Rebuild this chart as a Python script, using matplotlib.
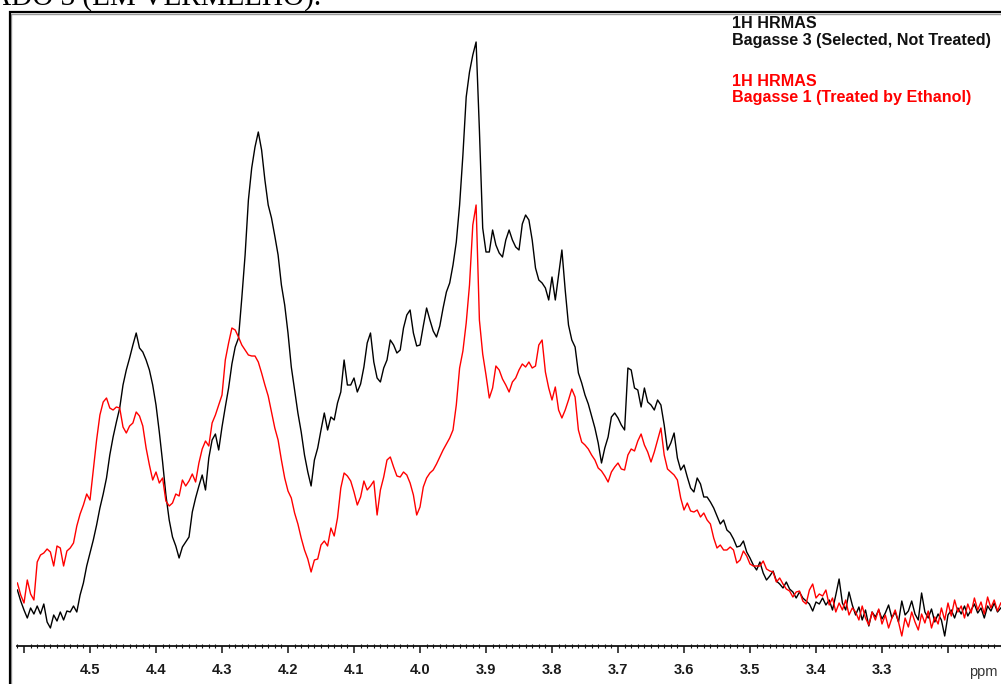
import matplotlib
matplotlib.use('Agg')
import matplotlib.pyplot as plt
from matplotlib.ticker import MultipleLocator, FixedLocator, FixedFormatter
from matplotlib.patches import Rectangle

plt.rcParams['font.family'] = ['Liberation Sans', 'DejaVu Sans']

# chemical shift (ppm), sampled every 0.005 ppm
ppm = [
    4.610, 4.605, 4.600, 4.595, 4.590, 4.585, 4.580, 4.575, 4.570, 4.565,
    4.560, 4.555, 4.550, 4.545, 4.540, 4.535, 4.530, 4.525, 4.520, 4.515,
    4.510, 4.505, 4.500, 4.495, 4.490, 4.485, 4.480, 4.475, 4.470, 4.465,
    4.460, 4.455, 4.450, 4.445, 4.440, 4.435, 4.430, 4.425, 4.420, 4.415,
    4.410, 4.405, 4.400, 4.395, 4.390, 4.385, 4.380, 4.375, 4.370, 4.365,
    4.360, 4.355, 4.350, 4.345, 4.340, 4.335, 4.330, 4.325, 4.320, 4.315,
    4.310, 4.305, 4.300, 4.295, 4.290, 4.285, 4.280, 4.275, 4.270, 4.265,
    4.260, 4.255, 4.250, 4.245, 4.240, 4.235, 4.230, 4.225, 4.220, 4.215,
    4.210, 4.205, 4.200, 4.195, 4.190, 4.185, 4.180, 4.175, 4.170, 4.165,
    4.160, 4.155, 4.150, 4.145, 4.140, 4.135, 4.130, 4.125, 4.120, 4.115,
    4.110, 4.105, 4.100, 4.095, 4.090, 4.085, 4.080, 4.075, 4.070, 4.065,
    4.060, 4.055, 4.050, 4.045, 4.040, 4.035, 4.030, 4.025, 4.020, 4.015,
    4.010, 4.005, 4.000, 3.995, 3.990, 3.985, 3.980, 3.975, 3.970, 3.965,
    3.960, 3.955, 3.950, 3.945, 3.940, 3.935, 3.930, 3.925, 3.920, 3.915,
    3.910, 3.905, 3.900, 3.895, 3.890, 3.885, 3.880, 3.875, 3.870, 3.865,
    3.860, 3.855, 3.850, 3.845, 3.840, 3.835, 3.830, 3.825, 3.820, 3.815,
    3.810, 3.805, 3.800, 3.795, 3.790, 3.785, 3.780, 3.775, 3.770, 3.765,
    3.760, 3.755, 3.750, 3.745, 3.740, 3.735, 3.730, 3.725, 3.720, 3.715,
    3.710, 3.705, 3.700, 3.695, 3.690, 3.685, 3.680, 3.675, 3.670, 3.665,
    3.660, 3.655, 3.650, 3.645, 3.640, 3.635, 3.630, 3.625, 3.620, 3.615,
    3.610, 3.605, 3.600, 3.595, 3.590, 3.585, 3.580, 3.575, 3.570, 3.565,
    3.560, 3.555, 3.550, 3.545, 3.540, 3.535, 3.530, 3.525, 3.520, 3.515,
    3.510, 3.505, 3.500, 3.495, 3.490, 3.485, 3.480, 3.475, 3.470, 3.465,
    3.460, 3.455, 3.450, 3.445, 3.440, 3.435, 3.430, 3.425, 3.420, 3.415,
    3.410, 3.405, 3.400, 3.395, 3.390, 3.385, 3.380, 3.375, 3.370, 3.365,
    3.360, 3.355, 3.350, 3.345, 3.340, 3.335, 3.330, 3.325, 3.320, 3.315,
    3.310, 3.305, 3.300, 3.295, 3.290, 3.285, 3.280, 3.275, 3.270, 3.265,
    3.260, 3.255, 3.250, 3.245, 3.240, 3.235, 3.230, 3.225, 3.220, 3.215,
    3.210, 3.205, 3.200, 3.195, 3.190, 3.185, 3.180, 3.175, 3.170, 3.165,
    3.160, 3.155, 3.150, 3.145, 3.140, 3.135, 3.130, 3.125, 3.120,
]

# Bagasse 3 (Selected, Not Treated) - black trace, arbitrary intensity
bagasse3 = [
    60, 49, 40, 32, 42, 36, 44, 36, 46, 28,
    22, 35, 29, 38, 30, 39, 38, 44, 38, 55,
    67, 84, 97, 110, 125, 142, 156, 172, 195, 213,
    228, 242, 265, 280, 292, 305, 317, 302, 298, 290,
    280, 265, 245, 218, 188, 155, 130, 113, 104, 92,
    103, 108, 113, 138, 152, 164, 175, 160, 192, 210,
    216, 200, 223, 243, 262, 286, 303, 312, 352, 395,
    450, 482, 503, 518, 500, 470, 445, 432, 414, 395,
    365, 345, 317, 283, 260, 237, 218, 195, 178, 164,
    190, 202, 220, 237, 220, 233, 230, 247, 258, 290,
    265, 265, 272, 258, 266, 283, 307, 317, 288, 272,
    268, 282, 290, 310, 305, 297, 300, 322, 335, 340,
    317, 304, 305, 324, 342, 330, 319, 313, 324, 342,
    358, 367, 385, 408, 445, 495, 553, 578, 595, 608,
    520, 422, 398, 398, 420, 405, 397, 393, 410, 420,
    410, 403, 400, 426, 435, 430, 410, 382, 370, 367,
    362, 350, 373, 350, 375, 400, 360, 325, 310, 303,
    277, 267, 255, 246, 234, 222, 207, 187, 202, 213,
    233, 237, 232, 225, 220, 282, 280, 262, 260, 243,
    262, 248, 245, 240, 250, 245, 225, 200, 207, 217,
    192, 180, 185, 173, 162, 158, 172, 166, 153, 153,
    148, 142, 134, 126, 130, 120, 117, 111, 103, 104,
    109, 98, 92, 85, 80, 88, 77, 70, 74, 79,
    69, 66, 62, 68, 61, 58, 52, 58, 52, 49,
    46, 39, 48, 46, 52, 45, 50, 40, 55, 71,
    47, 40, 58, 45, 35, 43, 30, 40, 24, 38,
    33, 40, 31, 37, 45, 32, 38, 28, 49, 35,
    39, 49, 36, 30, 57, 38, 32, 41, 28, 36,
    30, 14, 35, 40, 32, 42, 36, 44, 34, 40,
    46, 37, 42, 32, 44, 39, 47, 38, 42,
]

# Bagasse 1 (Treated by Ethanol) - red trace, arbitrary intensity
bagasse1 = [
    67, 55, 47, 70, 56, 50, 88, 95, 97, 101,
    98, 84, 104, 102, 84, 99, 102, 107, 124, 136,
    145, 156, 150, 180, 210, 235, 248, 252, 242, 240,
    243, 242, 223, 217, 224, 227, 238, 234, 224, 202,
    185, 170, 178, 167, 172, 149, 144, 147, 156, 154,
    170, 164, 169, 176, 168, 187, 201, 209, 204, 227,
    235, 245, 255, 290, 307, 322, 320, 313, 305, 300,
    295, 294, 294, 288, 277, 265, 254, 238, 222, 210,
    190, 172, 159, 152, 137, 126, 112, 100, 91, 78,
    90, 91, 105, 109, 104, 122, 114, 132, 162, 177,
    174, 169, 158, 145, 153, 169, 160, 164, 169, 135,
    160, 173, 190, 193, 183, 174, 173, 178, 175, 167,
    155, 135, 143, 163, 172, 177, 180, 186, 193, 200,
    206, 212, 220, 245, 282, 299, 327, 365, 425, 445,
    330, 296, 275, 252, 262, 284, 280, 271, 265, 258,
    268, 272, 280, 286, 283, 288, 282, 284, 305, 310,
    278, 262, 250, 263, 240, 232, 240, 250, 261, 253,
    220, 208, 205, 201, 195, 190, 182, 179, 174, 168,
    178, 183, 187, 181, 180, 195, 201, 199, 209, 216,
    205, 198, 188, 198, 210, 222, 195, 181, 178, 175,
    170, 152, 140, 147, 139, 138, 140, 133, 137, 130,
    126, 112, 102, 105, 100, 100, 103, 100, 87, 90,
    99, 94, 86, 84, 84, 84, 89, 81, 79, 78,
    68, 72, 66, 61, 59, 53, 58, 59, 49, 46,
    60, 66, 52, 56, 54, 60, 45, 52, 38, 47,
    40, 50, 35, 42, 38, 30, 44, 32, 25, 38,
    30, 41, 26, 35, 22, 32, 40, 28, 14, 32,
    23, 38, 28, 20, 36, 27, 39, 22, 33, 26,
    42, 30, 47, 34, 50, 38, 44, 32, 46, 37,
    52, 40, 48, 36, 53, 42, 50, 39, 47,
]

major_ticks = [4.6, 4.5, 4.4, 4.3, 4.2, 4.1, 4.0, 3.9, 3.8, 3.7, 3.6, 3.5, 3.4, 3.3, 3.2]
tick_labels = ['', '4.5', '4.4', '4.3', '4.2', '4.1', '4.0', '3.9', '3.8', '3.7',
               '3.6', '3.5', '3.4', '3.3', '']

assert len(ppm) == len(bagasse3) == len(bagasse1), (len(ppm), len(bagasse3), len(bagasse1))

W, H = 1001, 684
fig = plt.figure(figsize=(W / 100, H / 100), dpi=100)
fig.patch.set_facecolor('white')

ax = fig.add_axes([17 / W, 38 / H, (W - 17) / W, 634 / H])
ax.plot(ppm, bagasse3, color='black', lw=1.0)
ax.plot(ppm, bagasse1, color='#ff0000', lw=1.0)

ax.set_xlim(4.5 + (90 - 17) / 660, 4.5 - (W - 90) / 660)
ax.set_ylim(4, 638)
for s in ['top', 'left', 'right']:
    ax.spines[s].set_visible(False)
ax.spines['bottom'].set_linewidth(1.3)
ax.spines['bottom'].set_color('#111111')
ax.set_yticks([])
ax.xaxis.set_major_locator(FixedLocator(major_ticks))
ax.xaxis.set_major_formatter(FixedFormatter(tick_labels))
ax.xaxis.set_minor_locator(MultipleLocator(0.01))
ax.tick_params(axis='x', which='major', direction='out', length=5, width=1.1,
               pad=7.5, labelsize=10.5, labelcolor='#1a1a1a', color='#111111')
ax.tick_params(axis='x', which='minor', direction='inout', length=3, width=0.8,
               color='#111111')
for t in ax.get_xticklabels():
    t.set_fontweight('bold')

fig.text(983 / W, 1 - 672 / H, 'ppm', ha='center', va='center', fontsize=10.5,
         color='#333333')

# legend-like annotations
fig.text(732 / W, 1 - 28 / H, '1H HRMAS', fontsize=11.6, weight='bold',
         color='#111111', va='baseline', ha='left')
fig.text(732 / W, 1 - 45 / H, 'Bagasse 3 (Selected, Not Treated)', fontsize=11.6,
         weight='bold', color='#111111', va='baseline', ha='left')
fig.text(732 / W, 1 - 86 / H, '1H HRMAS', fontsize=11.6, weight='bold',
         color='#ff0000', va='baseline', ha='left')
fig.text(732 / W, 1 - 102 / H, 'Bagasse 1 (Treated by Ethanol)', fontsize=11.6,
         weight='bold', color='#ff0000', va='baseline', ha='left')

# cut-off caption from the page above the figure
fig.text(321 / W, 1 - 5 / H, 'TRATADO 3 (EM VERMELHO).', ha='right', va='baseline',
         family=['Liberation Serif', 'DejaVu Serif'], fontsize=21, color='black')

# page frame around the spectrum
fig.add_artist(Rectangle((11 / W, -0.05), 1.2, (H - 14) / H + 0.05,
                         transform=fig.transFigure, fill=False, lw=1.0,
                         ec='#9a9a9a'))
fig.add_artist(Rectangle((9.5 / W, -0.05), 1.2, (H - 12) / H + 0.05,
                         transform=fig.transFigure, fill=False, lw=1.6,
                         ec='black'))

fig.savefig('out.png', dpi=100)
